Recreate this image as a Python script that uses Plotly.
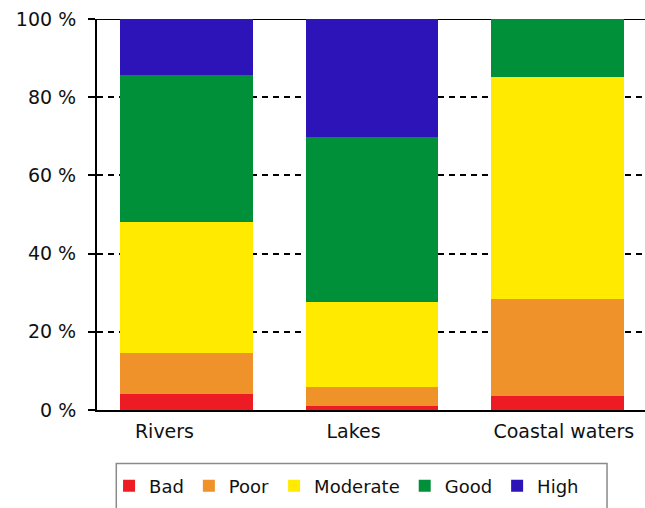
import plotly.graph_objects as go

# Ecological status of surface water bodies, share of classified water bodies (%)
categories = ["Rivers", "Lakes", "Coastal waters"]
status_classes = ["Bad", "Poor", "Moderate", "Good", "High"]
bad = [4.1, 1.1, 3.7]
poor = [10.5, 4.9, 24.8]
moderate = [33.4, 21.5, 56.7]
good = [37.7, 42.3, 14.8]
high = [14.3, 30.2, 0.0]
y_ticks = [0, 20, 40, 60, 80, 100]

series = [bad, poor, moderate, good, high]
class_colors = ["#ED1C24", "#F0922A", "#FFEA00", "#00903A", "#2C14B8"]

FONT = "DejaVu Sans"
x_pos = list(range(len(categories)))

fig = go.Figure()
for name, values, color in zip(status_classes, series, class_colors):
    fig.add_trace(go.Bar(
        x=x_pos, y=values, name=name, width=0.715,
        marker=dict(color=color, line=dict(width=0)),
        hoverinfo="name+y",
    ))

# category labels sit slightly off the bar centres
label_shift = [-0.12, -0.10, 0.035]

fig.update_layout(
    width=645, height=508,
    margin=dict(l=97, r=0, t=19, b=98, autoexpand=False),
    barmode="stack",
    bargap=0,
    plot_bgcolor="white",
    paper_bgcolor="white",
    font=dict(family=FONT, size=19, color="#111111"),
    showlegend=True,
    legend=dict(
        orientation="h", traceorder="normal",
        x=0.022, xanchor="left", y=-0.1475, yanchor="top",
        font=dict(family=FONT, size=18, color="#111111"),
        bgcolor="rgba(0,0,0,0)", borderwidth=0,
        itemwidth=30, itemclick=False, itemdoubleclick=False,
    ),
    xaxis=dict(
        range=[-0.484, 2.473],
        tickvals=[p + s for p, s in zip(x_pos, label_shift)],
        ticktext=categories,
        showgrid=False, zeroline=False,
        showline=True, linecolor="black", linewidth=2,
        ticks="", ticklabelstandoff=3,
        fixedrange=True,
    ),
    yaxis=dict(
        range=[0, 100],
        tickvals=y_ticks,
        ticktext=[f"{v} %" for v in y_ticks],
        showgrid=True, gridcolor="black", gridwidth=1.5, griddash="6px,5px",
        zeroline=False,
        showline=True, linecolor="black", linewidth=2,
        ticks="outside", ticklen=7, tickwidth=2, tickcolor="black",
        ticklabelstandoff=8,
        fixedrange=True,
    ),
    shapes=[
        # solid top frame line at 100 %
        dict(type="line", xref="paper", x0=0, x1=1, yref="y", y0=100, y1=100,
             line=dict(color="black", width=2), layer="between"),
        # legend frame
        dict(type="rect", xref="paper", x0=0.0352, x1=0.9307,
             yref="paper", y0=-0.137, y1=-0.40,
             line=dict(color="#8a8a8a", width=1.5), layer="above"),
    ],
)

fig.write_html("out.html")
